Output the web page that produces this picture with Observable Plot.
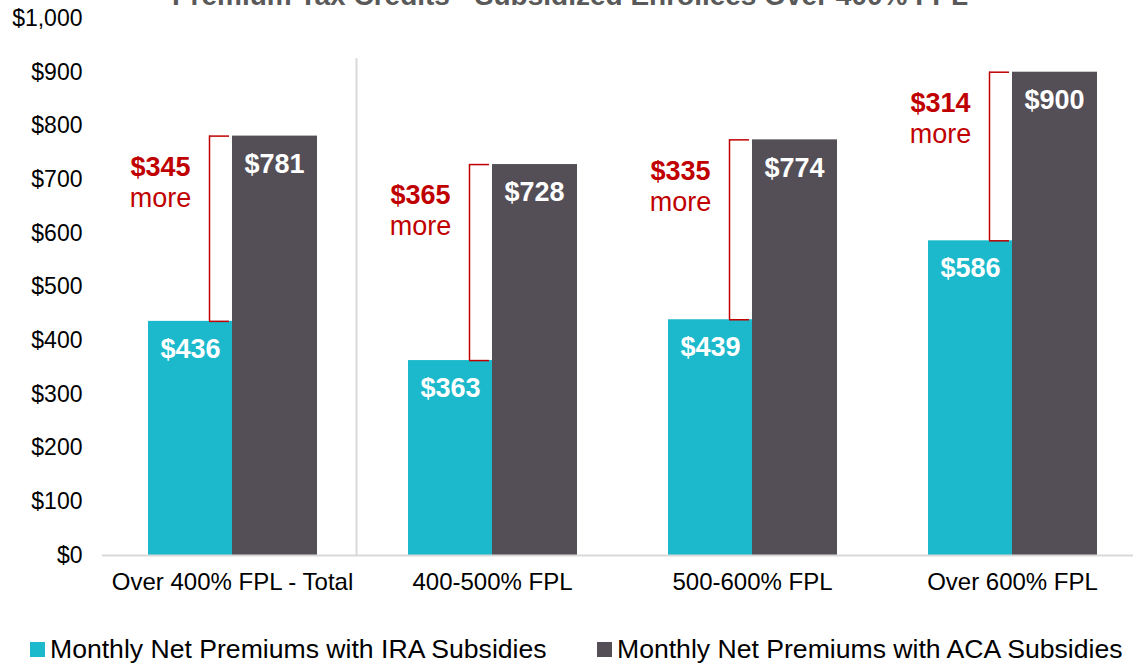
<!DOCTYPE html>
<html>
<head>
<meta charset="utf-8">
<script src="https://cdn.jsdelivr.net/npm/d3@7"></script>
<script src="https://cdn.jsdelivr.net/npm/@observablehq/plot@0.6"></script>
<style>
  html, body { margin: 0; padding: 0; background: #fff; overflow: hidden; }
  body { width: 1133px; height: 664px; position: relative; font-family: "Liberation Sans", Arial, sans-serif; }
  #title { position: absolute; left: 0; width: 1140px; top: -20px; text-align: center; font-size: 28px; line-height: 32px; font-weight: bold; color: #595959; z-index: 2; }
  #chart { position: absolute; left: 0; top: 0; z-index: 1; }
  .legend-item { position: absolute; top: 634px; display: flex; align-items: center; font-size: 26.6px; color: #000; white-space: nowrap; }
  .sw { width: 15px; height: 15px; margin-right: 5px; }
</style>
</head>
<body>
<div id="title">Premium Tax Credits - Subsidized Enrollees Over 400% FPL</div>
<div id="chart"></div>
<div class="legend-item" style="left:30px"><span class="sw" style="background:#1BB9CB"></span>Monthly Net Premiums with IRA Subsidies</div>
<div class="legend-item" style="left:597px"><span class="sw" style="background:#544E56"></span>Monthly Net Premiums with ACA Subsidies</div>
<script>
const categories = ["Over 400% FPL - Total", "400-500% FPL", "500-600% FPL", "Over 600% FPL"];
const iraValues = [436, 363, 439, 586];
const acaValues = [781, 728, 774, 900];
const diffValues = [345, 365, 335, 314];
const yTicks = [0, 100, 200, 300, 400, 500, 600, 700, 800, 900, 1000];

const cyan = "#1BB9CB";
const dark = "#544E56";
const red = "#C00000";

const data = categories.map((c, i) => ({cat: c, ira: iraValues[i], aca: acaValues[i], diff: diffValues[i]}));
const fmt = d3.format("$,");

const chart = Plot.plot({
  width: 1133,
  height: 600,
  marginLeft: 102,
  marginRight: 0,
  marginTop: 18,
  marginBottom: 45,
  style: {fontFamily: "'Liberation Sans', Arial, sans-serif", background: "transparent", overflow: "visible"},
  x: {domain: categories, range: [102, 1142], padding: 0, label: null},
  y: {domain: [0, 1000], label: null},
  marks: [
    Plot.axisY({ticks: yTicks, tickFormat: fmt, tickSize: 0, tickPadding: 20, fontSize: 23, fill: "#000", label: null}),
    Plot.axisX({tickSize: 0, tickPadding: 17, fontSize: 24, fill: "#000", label: null}),
    Plot.ruleX([categories[1]], {x: d => d, y1: () => 0, y2: () => 925, dx: -136, stroke: "#d9d9d9", strokeWidth: 2}),
    Plot.barY(data, {x: "cat", y: "ira", fill: cyan, insetLeft: 46, insetRight: 130}),
    Plot.barY(data, {x: "cat", y: "aca", fill: dark, insetLeft: 130, insetRight: 45}),
    Plot.ruleY([0], {stroke: "#d9d9d9", strokeWidth: 2}),
    // brackets
    Plot.ruleX(data, {x: "cat", y1: "ira", y2: "aca", dx: -23, stroke: red, strokeWidth: 1.5}),
    Plot.tickY(data, {x: "cat", y: "aca", insetLeft: 107, insetRight: 133, stroke: red, strokeWidth: 1.5}),
    Plot.tickY(data, {x: "cat", y: "ira", insetLeft: 107, insetRight: 133, stroke: red, strokeWidth: 1.5}),
    // difference labels
    Plot.text(data, {x: "cat", y: "aca", text: d => fmt(d.diff), dx: -72, dy: 31, fill: red, fontWeight: "bold", fontSize: 27, textAnchor: "middle", lineAnchor: "middle"}),
    Plot.text(data, {x: "cat", y: "aca", text: () => "more", dx: -72, dy: 62, fill: red, fontSize: 27, textAnchor: "middle", lineAnchor: "middle"}),
    // value labels
    Plot.text(data, {x: "cat", y: "ira", text: d => fmt(d.ira), dx: -42, dy: 28, fill: "#fff", fontWeight: "bold", fontSize: 27, lineAnchor: "middle"}),
    Plot.text(data, {x: "cat", y: "aca", text: d => fmt(d.aca), dx: 42, dy: 28, fill: "#fff", fontWeight: "bold", fontSize: 27, lineAnchor: "middle"})
  ]
});
document.getElementById("chart").appendChild(chart);
</script>
</body>
</html>
